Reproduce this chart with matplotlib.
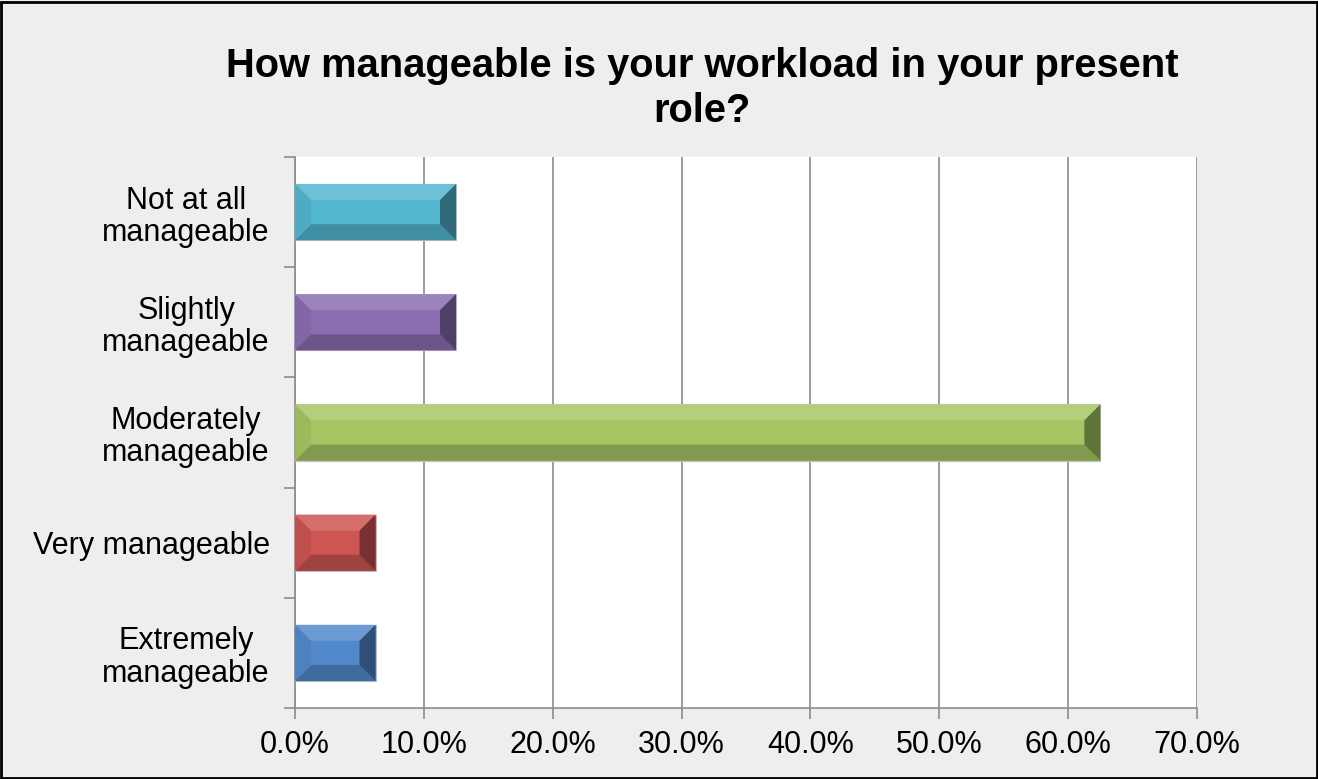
import numpy as np
import matplotlib.pyplot as plt
from matplotlib.patches import Polygon, Rectangle
from matplotlib.colors import to_rgb
from matplotlib.ticker import FuncFormatter

categories = ['Not at all\nmanageable', 'Slightly\nmanageable', 'Moderately\nmanageable',
              'Very manageable', 'Extremely\nmanageable']
values = [12.5, 12.5, 62.5, 6.25, 6.25]
colors = ['#52B6CF', '#8A6DB0', '#A5C663', '#CD5552', '#5289CB']
title = 'How manageable is your workload in your present\nrole?'


def mix(c, other, t):
    c = np.array(to_rgb(c))
    return tuple(c * (1 - t) + np.array(other) * t)


plt.rcParams['font.family'] = ['Liberation Sans', 'DejaVu Sans']
fig = plt.figure(figsize=(13.18, 7.79), dpi=100, facecolor='#EEEEEE')
fig.patches.append(Rectangle((0.001, 0.001), 0.998, 0.997, transform=fig.transFigure,
                             fill=False, edgecolor='black', linewidth=2))
ax = fig.add_axes([0.2238, 0.0911, 0.6844, 0.7074])
ax.set_facecolor('white')

n = len(categories)
ypos = np.arange(n)[::-1]
h = 0.51
xmax = 70
# bevel size, about 16 px in both directions
bx = 16 * xmax / 902
by = 16 * n / 551

for y, v, c in zip(ypos, values, colors):
    top, bot = y + h / 2, y - h / 2
    ax.add_patch(Rectangle((0, bot), v, h, facecolor=c, edgecolor='#BDBDBD', lw=0.8, zorder=3))
    ax.add_patch(Polygon([(0, top), (v, top), (v - bx, top - by), (bx, top - by)],
                         facecolor=mix(c, (1, 1, 1), 0.15), edgecolor='none', zorder=4))
    ax.add_patch(Polygon([(0, bot), (v, bot), (v - bx, bot + by), (bx, bot + by)],
                         facecolor=mix(c, (0, 0, 0), 0.22), edgecolor='none', zorder=4))
    ax.add_patch(Polygon([(0, bot), (0, top), (bx, top - by), (bx, bot + by)],
                         facecolor=mix(c, (0, 0, 0), 0.06), edgecolor='none', zorder=4))
    ax.add_patch(Polygon([(v, bot), (v, top), (v - bx, top - by), (v - bx, bot + by)],
                         facecolor=mix(c, (0, 0, 0), 0.42), edgecolor='none', zorder=4))

ax.set_xlim(0, xmax)
ax.set_ylim(-0.5, n - 0.5)
ax.set_xticks(np.arange(0, xmax + 1, 10))
ax.xaxis.set_major_formatter(FuncFormatter(lambda x, p: f'{x:.1f}%'))
ax.grid(axis='x', color='#8C8C8C', linewidth=1.2, zorder=0)
ax.set_axisbelow(True)

ax.set_yticks(ypos)
ax.set_yticklabels(categories, fontsize=22, ha='right', multialignment='center', linespacing=1.1)
ax.set_yticks(np.arange(n + 1) - 0.5, minor=True)
ax.tick_params(axis='y', which='major', length=0, pad=18)
ax.tick_params(axis='y', which='minor', length=8, color='#8C8C8C', width=1.2)
ax.tick_params(axis='x', length=8, color='#8C8C8C', width=1.2, labelsize=22, pad=8)

for s in ['top', 'right']:
    ax.spines[s].set_visible(False)
for s in ['left', 'bottom']:
    ax.spines[s].set_color('#8C8C8C')
    ax.spines[s].set_linewidth(1.2)

fig.text(0.5326, 0.886, title, ha='center', va='center', fontsize=28.7, fontweight='bold',
         linespacing=1.23)

fig.savefig('out.png', dpi=100, facecolor=fig.get_facecolor())
